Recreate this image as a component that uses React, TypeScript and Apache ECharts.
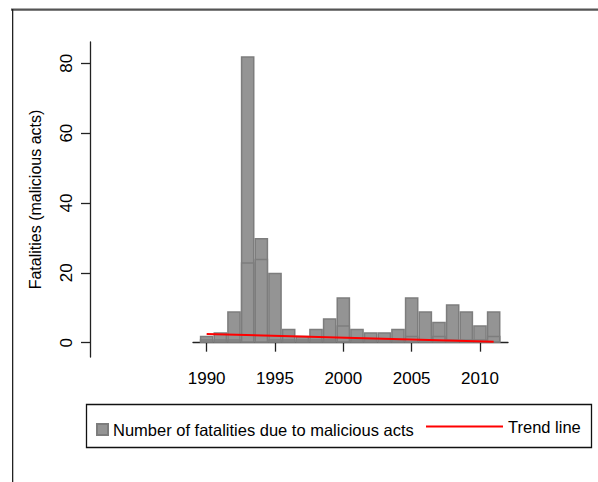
import React, { useEffect, useRef } from "react";
import * as echarts from "echarts";

const years = [1990, 1991, 1992, 1993, 1994, 1995, 1996, 1997, 1998, 1999, 2000, 2001, 2002, 2003, 2004, 2005, 2006, 2007, 2008, 2009, 2010, 2011];
// total fatalities per year, and the lower segment drawn inside each bar
const totalFatalities = [2, 3, 9, 82, 30, 20, 4, 2, 4, 7, 13, 4, 3, 3, 4, 13, 9, 6, 11, 9, 5, 9];
const lowerSegment = [1, 1, 1, 23, 24, 1, 1, 1, 1, 1, 5, 1, 1, 1, 1, 2, 1, 2, 1, 1, 1, 2];
const trendYears = [1990, 2011];
const trendValues = [2.5, 0.3];
const xTicks = [1990, 1995, 2000, 2005, 2010];
const yTicks = [0, 20, 40, 60, 80];

const BAR_NAME = "Number of fatalities due to malicious acts";
const LINE_NAME = "Trend line";
const FONT = "Liberation Sans, Arial, Helvetica, sans-serif";

export default function App() {
  const ref = useRef<HTMLDivElement>(null);
  useEffect(() => {
    if (!ref.current) return;
    const chart = echarts.init(ref.current, null, { renderer: "svg" });
    const barStyle = { color: "#949494", borderColor: "#7d7d7d", borderWidth: 1.5 };
    const axisColor = "#222";
    chart.setOption({
      animation: false,
      backgroundColor: "#fff",
      textStyle: { fontFamily: FONT },
      grid: { left: 193, right: 90, top: 42, bottom: 125 },
      xAxis: {
        type: "value",
        min: 1989,
        max: 2012.05,
        axisLine: { show: true, lineStyle: { color: axisColor, width: 1.3 } },
        axisTick: { show: true, length: 9, customValues: xTicks, lineStyle: { color: axisColor, width: 1.3 } },
        axisLabel: {
          customValues: xTicks,
          margin: 13,
          fontSize: 17,
          color: "#000",
          fontFamily: FONT,
          formatter: (v: number) => String(v),
        },
        splitLine: { show: false },
      },
      yAxis: {
        type: "value",
        min: -4.1,
        max: 86.1,
        offset: 103,
        name: "Fatalities (malicious acts)",
        nameLocation: "middle",
        nameGap: 47,
        nameTextStyle: { fontSize: 16, color: "#000", fontFamily: FONT },
        axisLine: { show: true, lineStyle: { color: axisColor, width: 1.3 } },
        axisTick: { show: true, length: 9, customValues: yTicks, lineStyle: { color: axisColor, width: 1.3 } },
        axisLabel: {
          customValues: yTicks,
          rotate: 90,
          margin: 15,
          fontSize: 17,
          color: "#000",
          fontFamily: FONT,
          formatter: (v: number) => String(v),
        },
        splitLine: { show: false },
      },
      legend: [
        {
          data: [BAR_NAME],
          left: 96,
          top: 421,
          padding: 0,
          itemWidth: 11,
          itemHeight: 11,
          icon: "rect",
          textStyle: { fontSize: 16.5, color: "#000", fontFamily: FONT },
        },
        {
          data: [{ name: LINE_NAME, icon: "rect" }],
          left: 426,
          top: 418,
          padding: 0,
          itemWidth: 77,
          itemHeight: 2,
          itemStyle: { color: "#ff0000" },
          textStyle: { fontSize: 16.5, color: "#000", fontFamily: FONT },
        },
      ],
      graphic: [
        { id: "frameTop", type: "rect", shape: { x: 11, y: 8.5, width: 587, height: 2.2 }, style: { fill: "#555" }, z: 10 },
        { id: "frameLeft", type: "rect", shape: { x: 12, y: 9, width: 1.3, height: 473 }, style: { fill: "#222" }, z: 10 },
        {
          id: "legendBox",
          type: "rect",
          shape: { x: 86.5, y: 404.5, width: 505, height: 43 },
          style: { fill: "none", stroke: "#111", lineWidth: 1.3 },
          z: -1,
        },
      ],
      series: [
        {
          name: BAR_NAME,
          type: "bar",
          barWidth: 13.66,
          barGap: "-100%",
          itemStyle: barStyle,
          data: years.map((y, i) => [y, totalFatalities[i]]),
        },
        {
          name: BAR_NAME,
          type: "bar",
          barWidth: 13.66,
          barGap: "-100%",
          itemStyle: barStyle,
          data: years.map((y, i) => [y, lowerSegment[i]]),
        },
        {
          name: LINE_NAME,
          type: "line",
          symbol: "none",
          lineStyle: { color: "#ff0000", width: 2 },
          itemStyle: { color: "#ff0000" },
          data: trendYears.map((y, i) => [y, trendValues[i]]),
          z: 5,
        },
      ],
    });
    return () => chart.dispose();
  }, []);
  return (
    <div
      ref={ref}
      style={{ position: "fixed", left: 0, top: 0, width: 598, height: 482 }}
    />
  );
}
